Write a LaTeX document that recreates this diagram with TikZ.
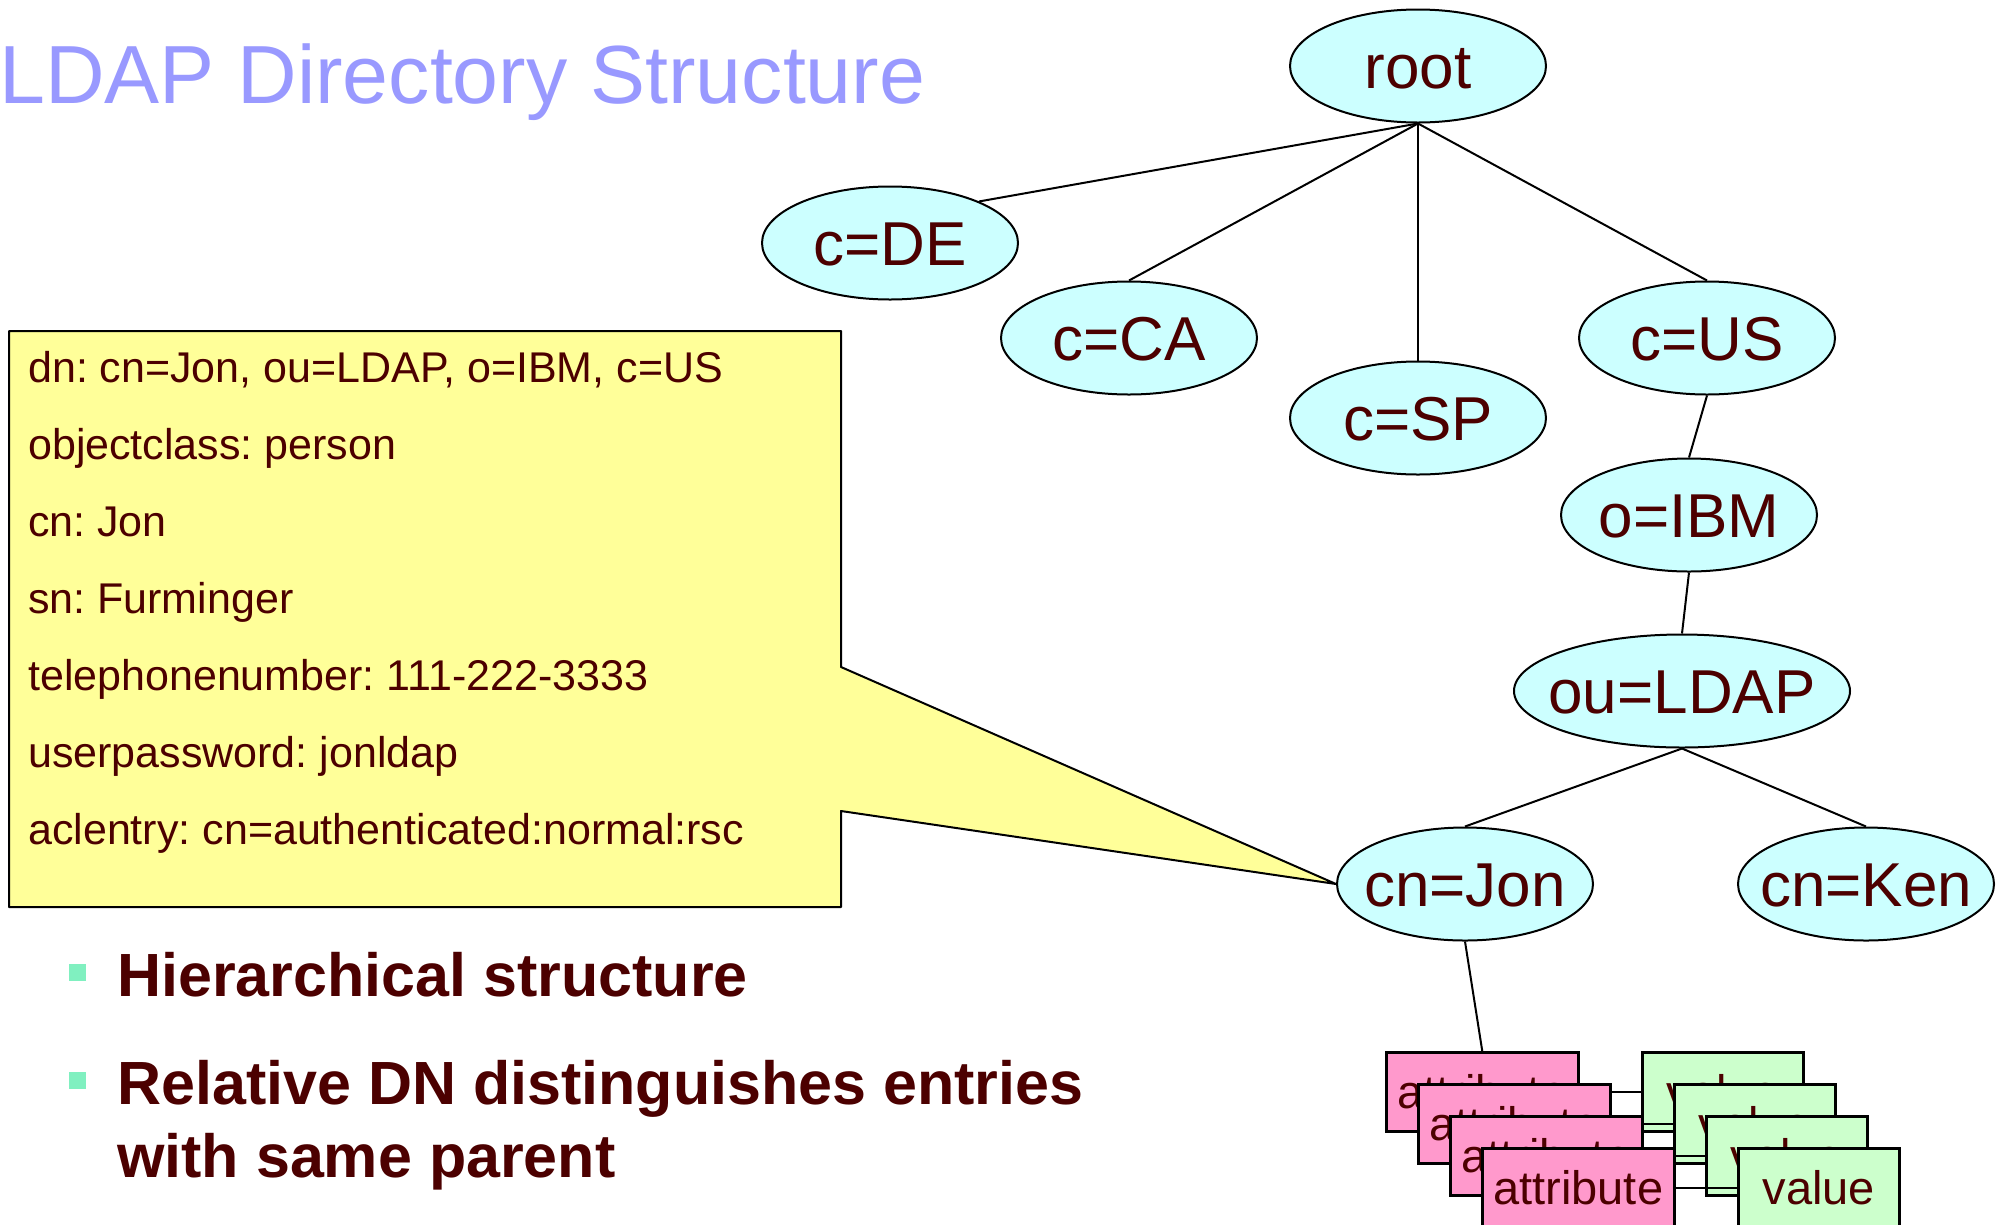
\documentclass[tikz,border=0pt]{standalone}
\usepackage{fontspec}
\setmainfont{Liberation Sans}
\usetikzlibrary{shapes.geometric}
\definecolor{txt}{HTML}{4C0000}
\definecolor{titleblue}{HTML}{9999FF}
\definecolor{nodecyan}{HTML}{CCFFFF}
\definecolor{calloutyellow}{HTML}{FFFF99}
\definecolor{attrpink}{HTML}{FF99CC}
\definecolor{valgreen}{HTML}{CCFFCC}
\definecolor{bulletgreen}{HTML}{80F0C0}
\frenchspacing
\begin{document}
\begin{tikzpicture}[x=1pt,y=-1pt,
  treenode/.style={ellipse, draw=black, line width=2pt, fill=nodecyan,
    minimum width=256pt, minimum height=113pt, inner sep=0pt},
  treelabel/.style={text=txt, font=\fontsize{62}{70}\selectfont, inner sep=0pt,
    text height=44pt, text depth=0pt},
  treeline/.style={line width=2pt},
  calltext/.style={text=txt, font=\fontsize{43}{50}\selectfont, inner sep=0pt, anchor=base west},
  bulletsq/.style={fill=bulletgreen, minimum size=17pt, inner sep=0pt},
  bullettext/.style={text=txt, font=\bfseries\fontsize{61}{73}\selectfont, inner sep=0pt,
    anchor=base west, align=left},
  attrbox/.style={rectangle, draw=black, line width=2.5pt, fill=attrpink, minimum width=192pt,
    minimum height=79pt, inner sep=0pt, anchor=north west, text=txt,
    font=\fontsize{47}{50}\selectfont, text height=34pt, text depth=0pt},
  valbox/.style={attrbox, fill=valgreen, minimum width=161pt},
  pairline/.style={line width=2pt}
]
\fill[white] (0,0) rectangle (2002,1224);
\useasboundingbox (0,0) rectangle (2002,1224);

% title
\node[anchor=base west, text=titleblue, font=\fontsize{82.5}{90}\selectfont, inner sep=0pt]
  (title) at (-1,103) {LDAP Directory Structure};

% tree nodes
\node[treenode] (root) at (1418,66) {};
\node[treelabel] (rootl) at (root.center) {root};
\node[treenode] (cde) at (890,243) {};
\node[treelabel] (cdel) at (cde.center) {c=DE};
\node[treenode] (cca) at (1129,338) {};
\node[treelabel] (ccal) at (cca.center) {c=CA};
\node[treenode] (csp) at (1418,418) {};
\node[treelabel] (cspl) at (csp.center) {c=SP};
\node[treenode] (cus) at (1707,338) {};
\node[treelabel] (cusl) at (cus.center) {c=US};
\node[treenode] (oibm) at (1689,515) {};
\node[treelabel] (oibml) at (oibm.center) {o=IBM};
\node[treenode, minimum width=336pt] (ou) at (1682,691) {};
\node[treelabel] (oul) at (ou.center) {ou=LDAP};
\node[treenode] (jon) at (1465,884) {};
\node[treelabel] (jonl) at (jon.center) {cn=Jon};
\node[treenode] (ken) at (1866,884) {};
\node[treelabel] (kenl) at (ken.center) {cn=Ken};

% tree connectors
\draw[treeline] (root.south) -- (cde.25);
\draw[treeline] (root.south) -- (cca.north);
\draw[treeline] (root.south) -- (csp.north);
\draw[treeline] (root.south) -- (cus.north);
\draw[treeline] (cus.south) -- (oibm.north);
\draw[treeline] (oibm.south) -- (ou.north);
\draw[treeline] (ou.south) -- (jon.north);
\draw[treeline] (ou.south) -- (ken.north);

% callout
\draw[fill=calloutyellow, line width=2pt, line join=round]
  (9,331) -- (841,331) -- (841,667) -- (jon.west) -- (841,811) -- (841,907) -- (9,907) -- cycle;
\node[calltext] (c1) at (28,382) {dn: cn=Jon, ou=LDAP, o=IBM, c=US};
\node[calltext] (c2) at (28,459) {objectclass: person};
\node[calltext] (c3) at (28,536) {cn: Jon};
\node[calltext] (c4) at (28,613) {sn: Furminger};
\node[calltext] (c5) at (28,690) {telephonenumber: 111-222-3333};
\node[calltext] (c6) at (28,767) {userpassword: jonldap};
\node[calltext] (c7) at (28,844) {aclentry: cn=authenticated:normal:rsc};

% bullets
\node[bulletsq] (b1) at (77.5,972.5) {};
\node[bulletsq] (b2) at (77.5,1080.5) {};
\node[bullettext] (t1) at (117,996) {Hierarchical structure};
\node[bullettext] (t2) at (117,1177) {Relative DN distinguishes entries\\with same parent};

% attribute / value stacks
\node[attrbox] (a1) at (1385,1051) {attribute};
\node[valbox] (v1) at (1641,1051) {value};
\draw[pairline] (a1.east) -- (v1.west);
\node[attrbox] (a2) at (1417,1083) {attribute};
\node[valbox] (v2) at (1673,1083) {value};
\draw[pairline] (a2.east) -- (v2.west);
\node[attrbox] (a3) at (1449,1115) {attribute};
\node[valbox] (v3) at (1705,1115) {value};
\draw[pairline] (a3.east) -- (v3.west);
\node[attrbox] (a4) at (1481,1147) {attribute};
\node[valbox] (v4) at (1737,1147) {value};
\draw[pairline] (a4.east) -- (v4.west);

\draw[treeline] (jon.south) -- (a1.north);
\end{tikzpicture}
\end{document}
